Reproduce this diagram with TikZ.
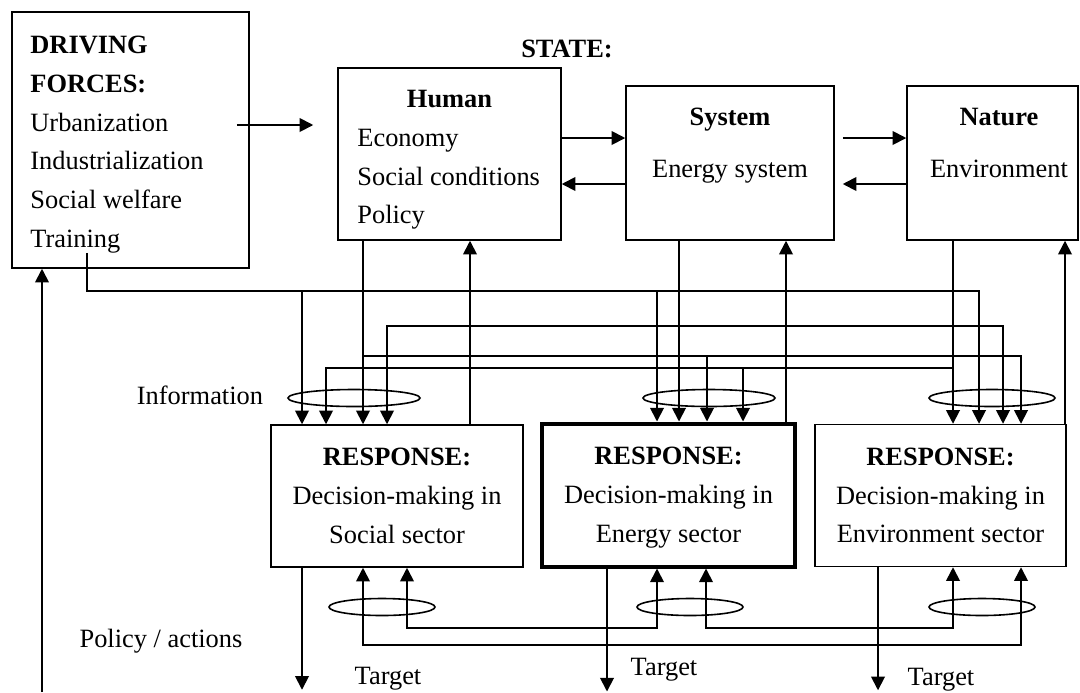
\documentclass[tikz,border=0pt]{standalone}
\usepackage{fontspec}
\setmainfont{Liberation Serif}
\usetikzlibrary{arrows.meta,calc}
\tikzset{
  box/.style={draw, line width=0.75pt, inner sep=0pt},
  txt/.style={inner sep=0pt, font=\fontsize{13.2}{19.4}\selectfont},
  arr/.style={line width=0.9pt, -{Triangle[width=6.8pt,length=6.8pt]}},
  arrs/.style={line width=0.9pt, {Triangle[width=6.8pt,length=6.8pt]}-{Triangle[width=6.8pt,length=6.8pt]}},
  ring/.style={line width=0.8pt},
}
\begin{document}
\begin{tikzpicture}[x=0.5pt,y=-0.5pt]
\useasboundingbox (0,0) rectangle (1080,692);
% driving forces and state
\node[box, minimum width=118.5pt, minimum height=128pt] (driving) at (130.5,140) {};
\node[txt, anchor=west, align=left] (forces) at (30,144.5)
  {\textbf{DRIVING}\\\textbf{FORCES:}\\Urbanization\\Industrialization\\Social welfare\\Training};
\node[txt, anchor=base] (state) at (567,57) {\textbf{STATE:}};
\node[box, minimum width=111.5pt, minimum height=86pt] (human) at (449.5,154) {};
\node[box, minimum width=104pt, minimum height=77pt] (system) at (730,163) {};
\node[box, minimum width=85.5pt, minimum height=77pt] (nature) at (992.5,163) {};
\node[txt, anchor=base] (humant) at (449.5,107) {\textbf{Human}};
\node[txt, anchor=base west] (economy) at (357,146) {Economy};
\node[txt, anchor=base west] (socialc) at (357,185) {Social conditions};
\node[txt, anchor=base west] (policy) at (357,223) {Policy};
\node[txt, anchor=base] (systemt) at (730,125) {\textbf{System}};
\node[txt, anchor=base] (energys) at (730,177) {Energy system};
\node[txt, anchor=base] (naturet) at (999,125) {\textbf{Nature}};
\node[txt, anchor=base] (environ) at (999,177) {Environment};
% responses
\node[box, txt, minimum width=126pt, minimum height=71pt, align=center] (social) at (397,496)
  {\textbf{RESPONSE:}\\Decision-making in\\Social sector};
\node[box, txt, line width=2pt, minimum width=126.5pt, minimum height=71.5pt, align=center] (energy) at (668.5,495)
  {\textbf{RESPONSE:}\\Decision-making in\\\raisebox{0pt}[\height][0pt]{Energy sector}};
\node[box, txt, minimum width=125.5pt, minimum height=71pt, align=center] (env) at (940.5,495.5)
  {\textbf{RESPONSE:}\\Decision-making in\\Environment sector};
\node[txt, anchor=base] (info) at (200,404) {Information};
\node[txt, anchor=base] (actions) at (161,647) {Policy / actions};
\node[txt, anchor=base] (target1) at (388,684) {Target};
\node[txt, anchor=base] (target2) at (664,675) {Target};
\node[txt, anchor=base] (target3) at (941,685) {Target};
% top row
\draw[arr] ($(driving.east |- 0,125)+(-13,0)$) -- ($(human.west |- 0,125)+(-24,0)$);
\draw[arr] (human.east |- 0,138) -- (system.west |- 0,138);
\draw[arr] (system.west |- 0,184) -- (human.east |- 0,184);
\draw[arr] ($(system.east |- 0,138)+(8,0)$) -- (nature.west |- 0,138);
\draw[arr] (nature.west |- 0,184) -- ($(system.east |- 0,184)+(8,0)$);
% state to response and back
\draw[arr] (363,0 |- human.south) -- (363,0 |- social.north);
\draw[arr] (470,0 |- social.north) -- (470,0 |- human.south);
\draw[arr] (679,0 |- system.south) -- (679,0 |- energy.north);
\draw[arr] (786,0 |- energy.north) -- (786,0 |- system.south);
\draw[arr] (953,0 |- nature.south) -- (953,0 |- env.north);
\draw[arr] (1065,0 |- env.north) -- (1065,0 |- nature.south);
% information
\draw[arr] ($(driving.south -| 87,0)+(0,-16)$) |- (979,291) -- (979,0 |- env.north);
\draw[arr] (302,291) -- (302,0 |- social.north);
\draw[arr] (657,291) -- (657,0 |- energy.north);
\draw[arrs] (387,0 |- social.north) |- (1003,326) -- (1003,0 |- env.north);
\draw[arr] (363,356) -| (1021,0 |- env.north);
\draw[arr] (707,356) -- (707,0 |- energy.north);
\draw[arr] (953,368) -| (326,0 |- social.north);
\draw[arr] (743,368) -- (743,0 |- energy.north);
\draw[ring] (354,398) ellipse [x radius=66, y radius=8.5];
\draw[ring] (709,398) ellipse [x radius=66, y radius=8.5];
\draw[ring] (992,398) ellipse [x radius=63, y radius=8.5];
% policy / actions
\draw[arrs] (407,0 |- social.south) |- (657,628) -- (657,0 |- energy.south);
\draw[arrs] (706,0 |- energy.south) |- (953,628) -- (953,0 |- env.south);
\draw[arrs] (363,0 |- social.south) |- (1021,645) -- (1021,0 |- env.south);
\draw[ring] (382,607) ellipse [x radius=53, y radius=8.5];
\draw[ring] (690,607) ellipse [x radius=53, y radius=8.5];
\draw[ring] (982,607) ellipse [x radius=53, y radius=8.5];
\draw[arr] (302,0 |- social.south) -- ++(0,122);
\draw[arr] (607,0 |- energy.south) -- ++(0,123);
\draw[arr] (878,0 |- env.south) -- ++(0,123);
\draw[arr] (42,692) -- (42,0 |- driving.south);
\end{tikzpicture}
\end{document}
